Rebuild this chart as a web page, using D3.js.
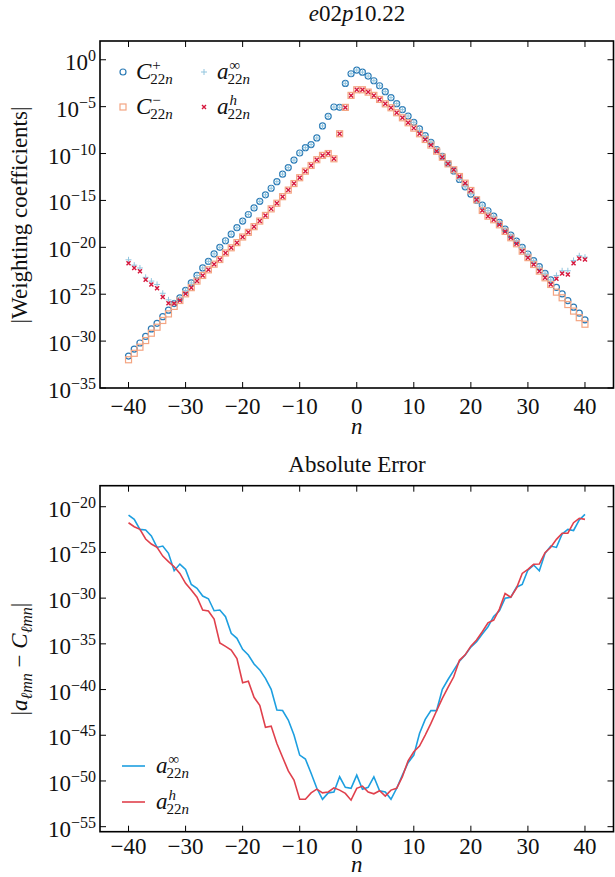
<!DOCTYPE html>
<html>
<head>
<meta charset="utf-8">
<script src="https://cdn.jsdelivr.net/npm/d3@7"></script>
<style>
  body { margin: 0; background: #fff; }
  svg, svg text { font-family: "Liberation Serif", "Times New Roman", serif; }
  svg text { fill: #111; }
  .it { font-style: italic; }
</style>
</head>
<body>
<div id="chart"></div>
<script>
// harmonic index n
var nValues = d3.range(-40, 41);

// log10 of |C+_{22n}|, |C-_{22n}|, |a^inf_{22n}|, |a^h_{22n}| (top panel)
var cPlusLog = [
  -31.6, -30.85, -30.2, -29.5, -28.7, -28.1, -27.4, -26.7, -26.0, -25.4,
  -24.6, -23.8, -23.0, -22.2, -21.5, -20.7, -20.0, -19.3, -18.6, -17.9,
  -17.2, -16.5, -15.8, -15.1, -14.4, -13.7, -13.0, -12.2, -11.5, -10.7,
  -9.94, -9.37, -9.04, -8.34, -7.06, -6.03, -5.04, -5.07, -2.52, -1.49,
  -1.1, -1.32, -1.74, -2.24, -2.77, -3.4, -4.04, -4.68, -5.32, -6.0,
  -6.67, -7.38, -8.09, -8.8, -9.57, -10.29, -11.06, -11.85, -12.77, -13.55,
  -14.33, -14.97, -15.5, -16.1, -16.67, -17.34, -18.05, -18.7, -19.33, -20.0,
  -20.71, -21.42, -22.06, -22.77, -23.48, -24.26, -24.97, -25.68, -26.38, -27.02,
  -27.73
];
var cMinusLog = [
  -31.99, -31.3, -30.65, -29.94, -29.16, -28.52, -27.8, -27.1, -26.3, -25.67,
  -24.96, -24.3, -23.6, -23.0, -22.4, -21.8, -21.3, -20.6, -20.05, -19.5,
  -18.9, -18.4, -17.8, -17.2, -16.6, -15.9, -15.3, -14.6, -13.9, -13.2,
  -12.58, -11.88, -11.27, -10.66, -10.2, -10.0, -10.56, -7.89, -5.08, -3.8,
  -3.2, -3.2, -3.45, -3.8, -4.23, -4.7, -5.12, -5.65, -6.19, -6.72,
  -7.29, -7.89, -8.5, -9.1, -9.75, -10.39, -11.1, -11.73, -12.45, -13.16,
  -13.94, -14.93, -16.07, -16.68, -17.06, -17.6, -18.3, -18.98, -19.62, -20.41,
  -21.1, -21.83, -22.54, -23.25, -23.96, -24.78, -25.38, -26.1, -26.8, -27.5,
  -28.2
];
var aInfLog = [
  -21.33, -21.9, -22.2, -23.2, -23.6, -23.96, -24.9, -25.6, -25.9, -25.4,
  -24.6, -23.8, -23.0, -22.2, -21.5, -20.7, -20.0, -19.3, -18.6, -17.9,
  -17.2, -16.5, -15.8, -15.1, -14.4, -13.7, -13.0, -12.2, -11.5, -10.7,
  -9.94, -9.37, -9.04, -8.34, -7.06, -6.03, -5.04, -5.07, -2.52, -1.49,
  -1.1, -1.32, -1.74, -2.24, -2.77, -3.4, -4.04, -4.68, -5.32, -6.0,
  -6.67, -7.38, -8.09, -8.8, -9.57, -10.29, -11.06, -11.85, -12.77, -13.55,
  -14.33, -14.97, -15.5, -16.1, -16.67, -17.34, -18.05, -18.7, -19.33, -20.0,
  -20.71, -21.42, -22.06, -22.77, -23.48, -23.0, -22.5, -22.5, -21.4, -20.9,
  -21.05
];
var aHLog = [
  -21.7, -22.2, -22.55, -23.46, -23.96, -24.36, -25.3, -25.96, -26.0, -25.67,
  -24.96, -24.3, -23.6, -23.0, -22.4, -21.8, -21.3, -20.6, -20.05, -19.5,
  -18.9, -18.4, -17.8, -17.2, -16.6, -15.9, -15.3, -14.6, -13.9, -13.2,
  -12.58, -11.88, -11.27, -10.66, -10.2, -10.0, -10.56, -7.89, -5.08, -3.8,
  -3.2, -3.2, -3.45, -3.8, -4.23, -4.7, -5.12, -5.65, -6.19, -6.72,
  -7.29, -7.89, -8.5, -9.1, -9.75, -10.39, -11.1, -11.73, -12.45, -13.16,
  -13.94, -14.93, -16.07, -16.68, -17.06, -17.6, -18.3, -18.98, -19.62, -20.41,
  -21.1, -21.83, -22.54, -23.25, -23.96, -23.35, -22.8, -22.9, -21.7, -21.2,
  -21.3
];

// log10 of absolute error (bottom panel)
var errInfLog = [
  -20.91, -21.38, -22.48, -22.55, -23.2, -24.45, -24.3, -25.1, -27.0, -26.27,
  -26.85, -28.5, -28.93, -29.77, -30.07, -31.38, -31.3, -32.03, -33.85, -34.4,
  -35.6, -36.22, -37.2, -37.85, -38.78, -39.98, -42.24, -42.3, -43.34, -44.98,
  -47.17, -47.6, -49.15, -50.8, -52.0, -51.3, -51.2, -49.54, -50.7, -50.8,
  -49.36, -50.9, -50.7, -49.54, -51.07, -51.2, -52.0, -50.8, -49.36, -48.0,
  -47.17, -44.8, -43.26, -42.3, -42.3, -39.98, -38.9, -37.9, -36.9, -36.22,
  -35.35, -34.77, -33.93, -33.13, -32.0, -31.38, -30.0, -29.9, -28.8, -28.5,
  -26.93, -26.38, -27.0, -25.1, -24.3, -24.45, -22.99, -22.48, -22.6, -21.45,
  -20.83
];
var errHLog = [
  -21.75, -22.19, -22.48, -23.53, -24.08, -24.44, -25.4, -26.0, -26.56, -27.3,
  -28.38, -29.1, -29.9, -31.3, -31.4, -32.3, -34.9, -35.27, -35.68, -36.6,
  -39.26, -39.1, -40.85, -41.73, -44.13, -44.0, -45.9, -47.4, -48.9, -49.9,
  -52.0, -52.0, -51.3, -50.9, -51.3, -51.2, -50.75, -51.0, -51.36, -52.1,
  -50.8, -50.56, -51.2, -51.4, -51.07, -51.65, -51.0, -50.8, -49.54, -47.79,
  -46.8, -46.18, -44.98, -43.7, -42.32, -40.96, -39.76, -38.6, -36.8, -36.2,
  -35.25, -34.58, -33.67, -32.7, -32.4, -31.2, -29.5, -29.9, -28.9, -27.3,
  -26.85, -26.3, -26.27, -25.03, -24.44, -23.57, -22.9, -22.9, -21.75, -21.27,
  -21.38
];

var xTicks = [-40, -30, -20, -10, 0, 10, 20, 30, 40];
var topYTicks = [0, -5, -10, -15, -20, -25, -30, -35];
var botYTicks = [-20, -25, -30, -35, -40, -45, -50, -55];

var W = 615, H = 877;
var FS = 23, FSS = 16;

var svg = d3.select("#chart").append("svg")
    .attr("width", W).attr("height", H)
    .attr("font-family", "Liberation Serif, serif");

function toPts(logs) {
  return nValues.map(function (n, i) { return { n: n, v: Math.pow(10, logs[i]) }; });
}

// small helper for "base^sup_sub" stacked like LaTeX
function mathSym(g, x, y, base, sup, sub, supItalic) {
  var t = g.append("text").attr("x", x).attr("y", y)
      .attr("font-size", FS).attr("class", "it").text(base);
  var w = t.node().getComputedTextLength();
  if (sup) {
    g.append("text").attr("x", x + w + 1).attr("y", y - 9)
      .attr("font-size", FSS - 1).attr("class", supItalic ? "it" : null).text(sup);
  }
  if (sub) {
    var s = g.append("text").attr("x", x + w - 1).attr("y", y + 5)
      .attr("font-size", FSS - 1);
    s.append("tspan").text("22");
    s.append("tspan").attr("class", "it").text("n");
  }
}

function drawFrame(g, x, y, yTicks, tickOff, labOff) {
  var x0 = x.range()[0], x1 = x.range()[1];
  var y0 = y.range()[0], y1 = y.range()[1];
  var tl = 6;
  xTicks.forEach(function (t) {
    g.append("line").attr("x1", x(t)).attr("x2", x(t)).attr("y1", y0).attr("y2", y0 - tl)
      .attr("stroke", "#000").attr("stroke-width", 1);
    g.append("line").attr("x1", x(t)).attr("x2", x(t)).attr("y1", y1).attr("y2", y1 + tl)
      .attr("stroke", "#000").attr("stroke-width", 1);
    g.append("text").attr("x", x(t)).attr("y", y0 + tickOff)
      .attr("text-anchor", "middle").attr("font-size", FS)
      .text(t < 0 ? "\u2212" + Math.abs(t) : String(t));
  });
  yTicks.forEach(function (t) {
    var py = y(Math.pow(10, t));
    g.append("line").attr("x1", x0).attr("x2", x0 + tl).attr("y1", py).attr("y2", py)
      .attr("stroke", "#000").attr("stroke-width", 1);
    g.append("line").attr("x1", x1).attr("x2", x1 - tl).attr("y1", py).attr("y2", py)
      .attr("stroke", "#000").attr("stroke-width", 1);
    var lab = g.append("text").attr("x", x0 - 4).attr("y", py + 10)
      .attr("text-anchor", "end").attr("font-size", FS);
    lab.append("tspan").text("10");
    lab.append("tspan").attr("dy", -9).attr("font-size", FSS)
      .text(t < 0 ? "\u2212" + Math.abs(t) : String(t));
  });
  g.append("rect").attr("x", x0).attr("y", y1).attr("width", x1 - x0).attr("height", y0 - y1)
    .attr("fill", "none").attr("stroke", "#000").attr("stroke-width", 1.6);
  g.append("text").attr("x", (x0 + x1) / 2).attr("y", y0 + labOff)
    .attr("text-anchor", "middle").attr("font-size", FS).attr("class", "it").text("n");
}

// ---------- top panel ----------
var x = d3.scaleLinear().domain([-45, 45]).range([100, 613.5]);
var yTop = d3.scaleLog().domain([1e-35, 1e2]).range([388, 41]);
var gTop = svg.append("g");

var colCirc = "#2c7bb6", colSq = "#f4a582", colPlus = "#92c5de", colX = "#d6163c";

gTop.append("g").selectAll("circle").data(toPts(cPlusLog)).enter().append("circle")
  .attr("cx", function (d) { return x(d.n); })
  .attr("cy", function (d) { return yTop(d.v); })
  .attr("r", 3).attr("fill", "none").attr("stroke", colCirc).attr("stroke-width", 1.2);

gTop.append("g").selectAll("rect").data(toPts(cMinusLog)).enter().append("rect")
  .attr("x", function (d) { return x(d.n) - 3; })
  .attr("y", function (d) { return yTop(d.v) - 3; })
  .attr("width", 6).attr("height", 6)
  .attr("fill", "none").attr("stroke", colSq).attr("stroke-width", 1.2);

gTop.append("g").selectAll("path").data(toPts(aInfLog)).enter().append("path")
  .attr("transform", function (d) { return "translate(" + x(d.n) + "," + yTop(d.v) + ")"; })
  .attr("d", "M-3,0H3M0,-3V3")
  .attr("stroke", colPlus).attr("stroke-width", 1).attr("fill", "none");

gTop.append("g").selectAll("path").data(toPts(aHLog)).enter().append("path")
  .attr("transform", function (d) { return "translate(" + x(d.n) + "," + yTop(d.v) + ")"; })
  .attr("d", "M-2,-2L2,2M-2,2L2,-2")
  .attr("stroke", colX).attr("stroke-width", 1.4).attr("fill", "none");

drawFrame(gTop, x, yTop, topYTicks, 26, 46);

// legend (top)
var lg = gTop.append("g");
lg.append("circle").attr("cx", 123).attr("cy", 72).attr("r", 3)
  .attr("fill", "none").attr("stroke", colCirc).attr("stroke-width", 1.2);
mathSym(lg, 136, 79, "C", "+", true);
lg.append("rect").attr("x", 120).attr("y", 104).attr("width", 6).attr("height", 6)
  .attr("fill", "none").attr("stroke", colSq).attr("stroke-width", 1.2);
mathSym(lg, 136, 114, "C", "\u2212", true);
lg.append("path").attr("transform", "translate(204,72)").attr("d", "M-3,0H3M0,-3V3")
  .attr("stroke", colPlus).attr("stroke-width", 1);
mathSym(lg, 217, 79, "a", "\u221e", true);
lg.append("path").attr("transform", "translate(204,107)").attr("d", "M-2,-2L2,2M-2,2L2,-2")
  .attr("stroke", colX).attr("stroke-width", 1.4);
mathSym(lg, 217, 114, "a", "h", true, true);

// title
var tt = svg.append("text").attr("x", 357).attr("y", 21).attr("text-anchor", "middle")
  .attr("font-size", FS);
tt.append("tspan").attr("class", "it").text("e");
tt.append("tspan").text("02");
tt.append("tspan").attr("class", "it").text("p");
tt.append("tspan").text("10.22");

svg.append("text").attr("transform", "translate(27,215) rotate(-90)")
  .attr("text-anchor", "middle").attr("font-size", FS).text("|Weighting coefficients|");

// ---------- bottom panel ----------
var yBot = d3.scaleLog().domain([Math.pow(10, -55.55), Math.pow(10, -17.7)]).range([831.7, 485.7]);
var gBot = svg.append("g");
var colBlue = "#1d9fe0", colRed = "#e0404c";

var line = d3.line()
  .x(function (d) { return x(d.n); })
  .y(function (d) { return yBot(d.v); });

gBot.append("path").datum(toPts(errInfLog)).attr("d", line)
  .attr("fill", "none").attr("stroke", colBlue).attr("stroke-width", 1.6);
gBot.append("path").datum(toPts(errHLog)).attr("d", line)
  .attr("fill", "none").attr("stroke", colRed).attr("stroke-width", 1.6);

drawFrame(gBot, x, yBot, botYTicks, 22, 40);

svg.append("text").attr("x", 357).attr("y", 472).attr("text-anchor", "middle")
  .attr("font-size", FS).text("Absolute Error");

var yl = svg.append("text").attr("transform", "translate(27,659) rotate(-90)")
  .attr("text-anchor", "middle").attr("font-size", FS);
yl.append("tspan").text("|");
yl.append("tspan").attr("class", "it").text("a");
yl.append("tspan").attr("dy", 5).attr("font-size", FSS).attr("class", "it").text("\u2113mn");
yl.append("tspan").attr("dy", -5).text(" \u2212 ");
yl.append("tspan").attr("class", "it").text("C");
yl.append("tspan").attr("dy", 5).attr("font-size", FSS).attr("class", "it").text("\u2113mn");
yl.append("tspan").attr("dy", -5).text("|");

// legend (bottom)
var lb = gBot.append("g");
lb.append("line").attr("x1", 122).attr("x2", 145).attr("y1", 766).attr("y2", 766)
  .attr("stroke", colBlue).attr("stroke-width", 1.6);
mathSym(lb, 156, 773, "a", "\u221e", true);
lb.append("line").attr("x1", 122).attr("x2", 145).attr("y1", 802).attr("y2", 802)
  .attr("stroke", colRed).attr("stroke-width", 1.6);
mathSym(lb, 156, 809, "a", "h", true, true);
</script>
</body>
</html>
